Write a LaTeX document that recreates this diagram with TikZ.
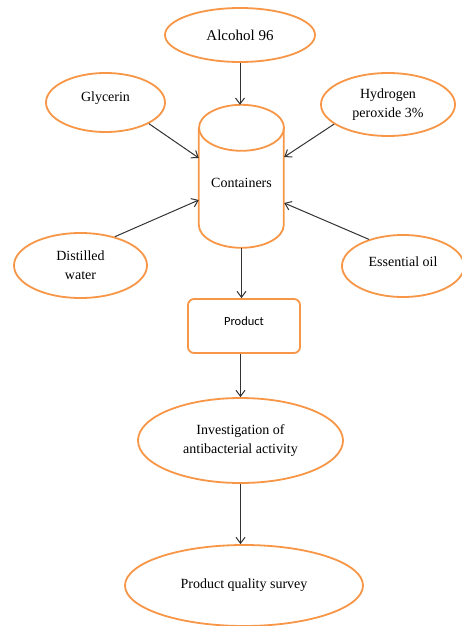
\documentclass[tikz,border=0pt]{standalone}
\usepackage{fontspec}
\setmainfont{Liberation Serif}
\newfontfamily\prodfont{Carlito}
\usetikzlibrary{shapes.geometric,arrows.meta}
\definecolor{accentorange}{HTML}{F79646}
\definecolor{arrowgray}{HTML}{333333}

\begin{document}
\begin{tikzpicture}[x=1pt,y=-1pt,font=\fontsize{14}{19}\selectfont]
            \tikzstyle{blob}=[ellipse,draw=accentorange,line width=1.8pt,fill=white,inner sep=0pt,align=center]
            \tikzstyle{feed}=[-{Straight Barb[length=6pt,width=9pt]},draw=arrowgray,line width=1pt]
            \useasboundingbox (0,0) rectangle (462,626);

                \node[blob,minimum width=150pt,minimum height=54pt] (alc) at (240,35) {\fontsize{15}{19}\selectfont Alcohol 96};
                \node[blob,minimum width=119pt,minimum height=59pt,text depth=12pt] (gly) at (105.5,102.5) {Glycerin};
                \node[blob,minimum width=134pt,minimum height=63pt] (hyd) at (388,104.5) {Hydrogen\\peroxide 3\%};
                \node[blob,minimum width=133pt,minimum height=65pt] (water) at (80.5,265.5) {Distilled\\water};
                \node[blob,minimum width=122pt,minimum height=62pt,text depth=9pt] (oil) at (403,266) {Essential oil};

                % cylinder, drawn by hand round an empty node
                \node[rectangle,minimum width=85pt,minimum height=143pt,inner sep=0pt,
                      label={[yshift=-6.5pt]center:Containers}] (cont) at (241.5,176.5) {};
                \draw[accentorange,line width=1.8pt] (cont.north) ++(0,23) ellipse (42.5 and 23);
                \draw[accentorange,line width=1.8pt] (cont.north west) ++(0,23) -- ++(0,97)
                      arc (180:0:42.5 and 23) -- ++(0,-97);

                \node[rectangle,rounded corners=6pt,draw=accentorange,line width=1.8pt,text depth=9pt,
                      minimum width=112pt,minimum height=54pt,font=\prodfont\fontsize{12.5}{15}\selectfont] (prod) at (244,326) {Product};
                \node[blob,minimum width=205pt,minimum height=85pt] (invest) at (240.5,440.5) {Investigation of\\antibacterial activity};
                \node[blob,minimum width=238pt,minimum height=81pt] (survey) at (244,585.5) {Product quality survey};

                \draw[feed] (alc.south) -- (alc.south |- cont.north);
                \foreach \from/\ang/\side/\y in {gly/334/west/158, hyd/200/east/157, water/40/west/200, oil/142/east/203}
                    \draw[feed] (\from.\ang) -- (cont.\side |- 0,\y);
                \draw[feed] (cont.south) -- (cont.south |- prod.north);
                \draw[feed] (invest.north |- prod.south) -- (invest.north);
                \draw[feed] (invest.south) -- (invest.south |- survey.north);
        \end{tikzpicture}
\end{document}
